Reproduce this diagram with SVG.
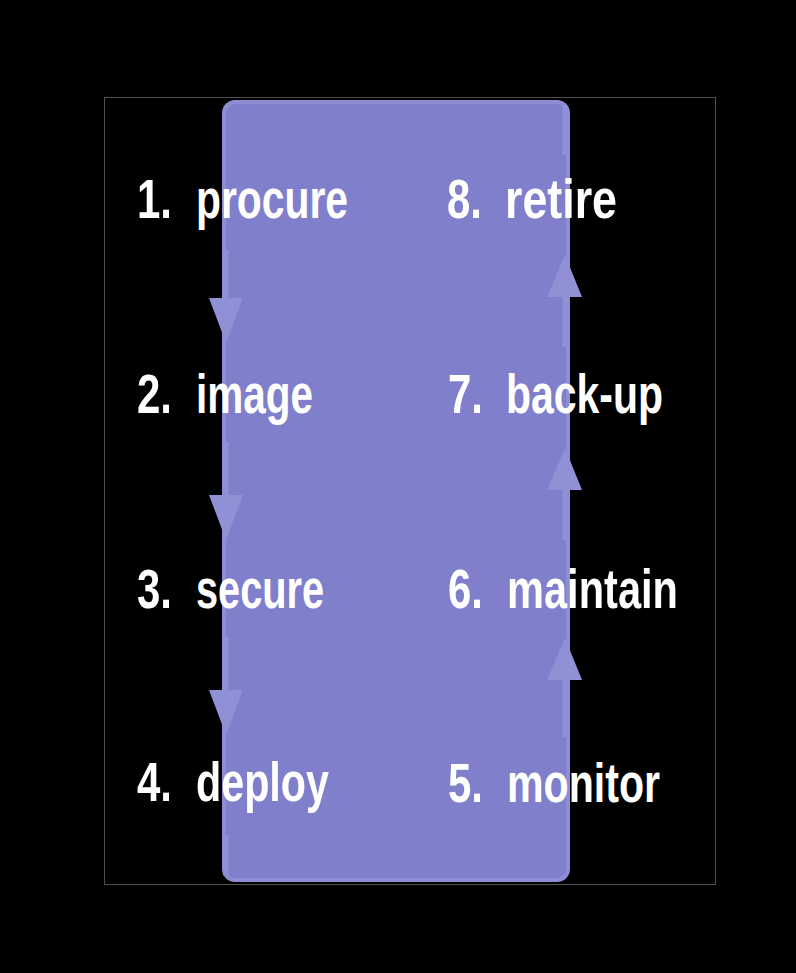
<svg xmlns="http://www.w3.org/2000/svg" width="796" height="973" viewBox="0 0 796 973">
  <defs>
    <style>
      .lbl { font-family: "Liberation Sans", Arial, sans-serif; font-weight: bold; font-size: 56px; fill: #ffffff; }
      .conn { stroke: #9090d6; stroke-width: 5; fill: none; }
      .head { fill: #9090d6; stroke: none; }
    </style>
  </defs>
  <rect x="0" y="0" width="796" height="973" fill="#000000"/>
  <rect x="104.5" y="97.5" width="611" height="787" fill="none" stroke="#505050" stroke-width="1"/>
  <g id="cycle-band">
    <rect x="224" y="102" width="344" height="778" rx="11" ry="11" fill="#7f7fcb" stroke="#8e8ed5" stroke-width="4"/>
  </g>
  <g id="connectors">
    <line class="conn" x1="226" y1="250" x2="226" y2="300"/>
    <polygon class="head" points="209,298 243,298 226,343"/>
    <line class="conn" x1="226" y1="442" x2="226" y2="497"/>
    <polygon class="head" points="209,495 243,495 226,540"/>
    <line class="conn" x1="226" y1="637" x2="226" y2="692"/>
    <polygon class="head" points="209,690 243,690 226,735"/>
    <line class="conn" x1="226" y1="835" x2="226" y2="876"/>
    <line class="conn" x1="565" y1="737" x2="565" y2="678"/>
    <polygon class="head" points="547,680 582,680 565,638"/>
    <line class="conn" x1="565" y1="540" x2="565" y2="488"/>
    <polygon class="head" points="547,490 582,490 565,448"/>
    <line class="conn" x1="565" y1="347" x2="565" y2="295"/>
    <polygon class="head" points="547,297 582,297 565,255"/>
    <line class="conn" x1="565" y1="155" x2="565" y2="106"/>
  </g>
  <g id="node-1">
    <text class="lbl" x="137" y="218" textLength="35" lengthAdjust="spacingAndGlyphs">1.</text>
    <text class="lbl" x="196" y="218" textLength="152" lengthAdjust="spacingAndGlyphs">procure</text>
  </g>
  <g id="node-2">
    <text class="lbl" x="137" y="413" textLength="35" lengthAdjust="spacingAndGlyphs">2.</text>
    <text class="lbl" x="196" y="413" textLength="117" lengthAdjust="spacingAndGlyphs">image</text>
  </g>
  <g id="node-3">
    <text class="lbl" x="137" y="608" textLength="35" lengthAdjust="spacingAndGlyphs">3.</text>
    <text class="lbl" x="196" y="608" textLength="128" lengthAdjust="spacingAndGlyphs">secure</text>
  </g>
  <g id="node-4">
    <text class="lbl" x="137" y="801" textLength="35" lengthAdjust="spacingAndGlyphs">4.</text>
    <text class="lbl" x="196" y="801" textLength="133" lengthAdjust="spacingAndGlyphs">deploy</text>
  </g>
  <g id="node-5">
    <text class="lbl" x="448" y="802" textLength="35" lengthAdjust="spacingAndGlyphs">5.</text>
    <text class="lbl" x="507" y="802" textLength="153" lengthAdjust="spacingAndGlyphs">monitor</text>
  </g>
  <g id="node-6">
    <text class="lbl" x="448" y="608" textLength="35" lengthAdjust="spacingAndGlyphs">6.</text>
    <text class="lbl" x="507" y="608" textLength="171" lengthAdjust="spacingAndGlyphs">maintain</text>
  </g>
  <g id="node-7">
    <text class="lbl" x="448" y="413" textLength="35" lengthAdjust="spacingAndGlyphs">7.</text>
    <text class="lbl" x="506" y="413" textLength="157" lengthAdjust="spacingAndGlyphs">back-up</text>
  </g>
  <g id="node-8">
    <text class="lbl" x="447" y="218" textLength="35" lengthAdjust="spacingAndGlyphs">8.</text>
    <text class="lbl" x="505" y="218" textLength="112" lengthAdjust="spacingAndGlyphs">retire</text>
  </g>
</svg>
